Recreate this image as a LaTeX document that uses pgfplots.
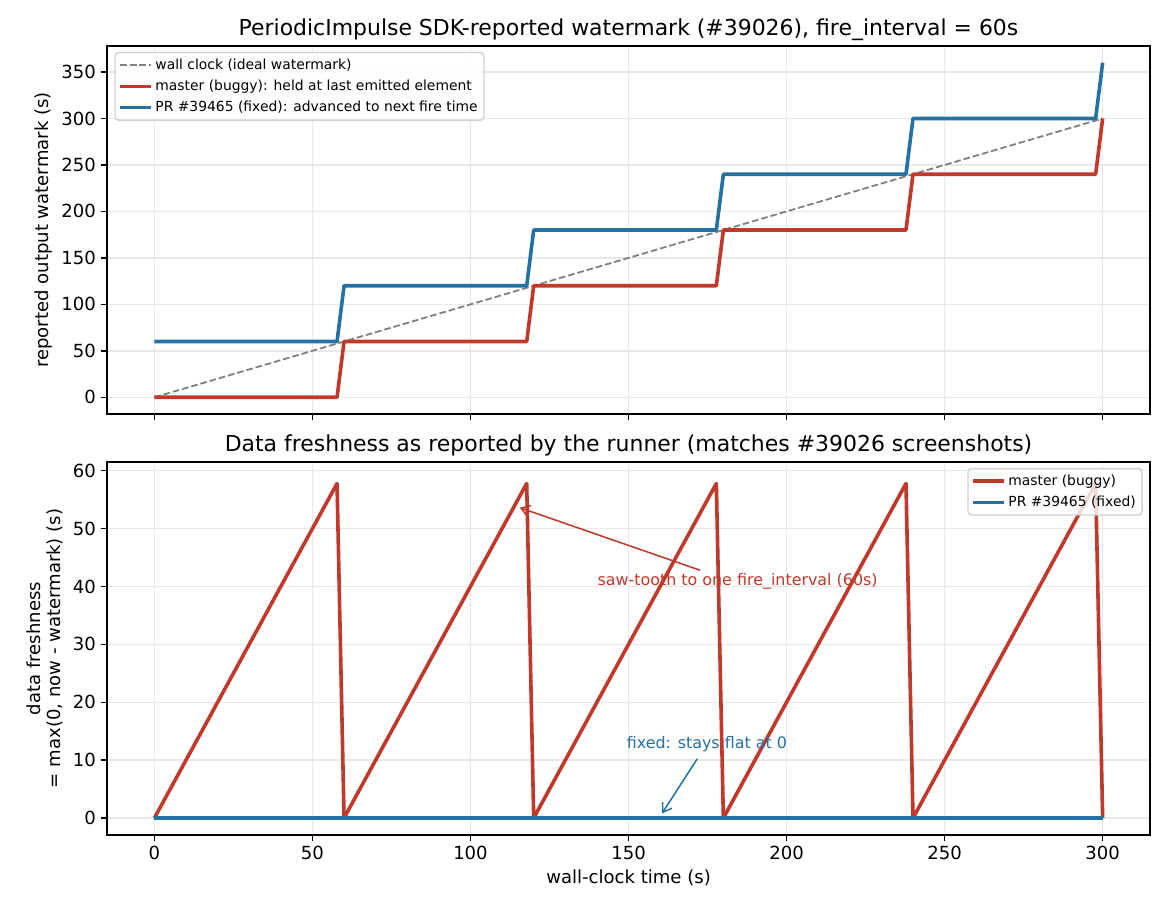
\documentclass[border=0pt]{standalone}
\usepackage{pgfplots}
\pgfplotsset{compat=1.18}
\usepackage{fontspec}
\setmainfont{DejaVu Sans}
\usetikzlibrary{arrows.meta}
\definecolor{mred}{HTML}{C0392B}
\definecolor{mblue}{HTML}{2471A3}
\definecolor{gridc}{HTML}{E8E8E8}
\pgfplotsset{
  mystyle/.style={
    scale only axis, width=751pt,
    xmin=-15, xmax=315,
    xtick={0,50,...,300},
    tick align=outside, major tick length=4.5pt,
    xtick pos=bottom, ytick pos=left,
    grid=major, grid style={gridc, line width=1pt},
    axis line style={line width=1pt}, every tick/.style={black, line width=1pt},
    tick label style={font=\fontsize{13}{15}\selectfont},
    label style={font=\fontsize{13}{15}\selectfont},
    /pgf/number format/assume math mode=true,
    title style={font=\fontsize{15.8}{18}\selectfont, at={(0.5,1)}, anchor=base, yshift=1.8pt},
    legend style={font=\fontsize{10}{12}\selectfont, draw=black!18, fill=white, fill opacity=0.8, draw opacity=1, text opacity=1, rounded corners=2.5pt, line width=1pt, cells={anchor=west}, row sep=2.2pt, inner sep=2.5pt},
    legend image code/.code={\draw[#1, opacity=1] (0pt,0pt) -- (22pt,0pt);},
    legend cell align=left,
    every axis plot/.append style={line join=round},
  }
}
\begin{document}
\begin{tikzpicture}
\useasboundingbox (0,0) rectangle (842.4pt,655.2pt);
\begin{axis}[mystyle, at={(77.04pt,357.1pt)}, anchor=south west, height=265pt,
  ymin=-18, ymax=378, ytick={0,50,...,350}, xticklabels={},
  ylabel={reported output watermark (s)},
  title={PeriodicImpulse SDK-reported watermark (\#39026), fire\_interval = 60s},
  legend style={at={(0.007,0.984)}, anchor=north west}]
\addplot[gray, line width=1.3pt, dash pattern=on 4.8pt off 2.1pt] coordinates {(0,0) (300,300)};
\addlegendentry{wall clock (ideal watermark)}
\addplot[mred, line width=2.6pt] coordinates {
(0,0) (57.78,0) (60,60) (117.78,60) (120,120) (177.78,120) (180,180) (237.78,180) (240,240) (297.78,240) (300,300)};
\addlegendentry{master (buggy): held at last emitted element}
\addplot[mblue, line width=2.6pt] coordinates {
(0,60) (57.78,60) (60,120) (117.78,120) (120,180) (177.78,180) (180,240) (237.78,240) (240,300) (297.78,300) (300,360)};
\addlegendentry{PR \#39465 (fixed): advanced to next fire time}
\end{axis}
\begin{axis}[mystyle, at={(77.04pt,54pt)}, anchor=south west, height=268.6pt,
  ymin=-2.93, ymax=61.5, ytick={0,10,...,60},
  xlabel={wall-clock time (s)},
  ylabel={data freshness\\= max(0, now - watermark) (s)}, ylabel style={align=center},
  title={Data freshness as reported by the runner (matches \#39026 screenshots)},
  legend style={at={(0.993,0.984)}, anchor=north east}]
\addplot[mred, line width=2.6pt] coordinates {
(0,0) (57.78,57.78) (60,0) (117.78,57.78) (120,0) (177.78,57.78) (180,0) (237.78,57.78) (240,0) (297.78,57.78) (300,0)};
\addlegendentry{master (buggy)}
\addplot[mblue, line width=2.6pt] coordinates {(0,0) (300,0)};
\addlegendentry{PR \#39465 (fixed)}
\node[text=mred, font=\fontsize{11.45}{14}\selectfont] at (axis cs:184.5,40.9) {saw-tooth to one fire\_interval (60s)};
\draw[mred, line width=1.1pt, -{Straight Barb[length=6pt,width=8pt]}] (axis cs:172.6,42.8) -- (axis cs:115.6,53.6);
\node[text=mblue, font=\fontsize{11.45}{14}\selectfont] at (axis cs:174.8,12.8) {fixed: stays flat at 0};
\draw[mblue, line width=1.1pt, -{Straight Barb[length=6pt,width=8pt]}] (axis cs:171.7,10.2) -- (axis cs:160.6,0.8);
\end{axis}
\end{tikzpicture}
\end{document}
